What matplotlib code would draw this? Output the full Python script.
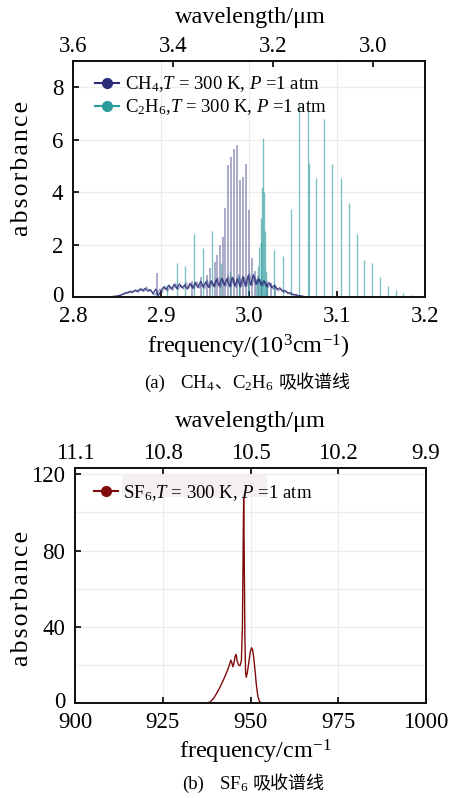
import numpy as np
import matplotlib
matplotlib.use("Agg")
import matplotlib.pyplot as plt
from matplotlib.lines import Line2D
from matplotlib.patches import Rectangle
from matplotlib.transforms import ScaledTranslation

plt.rcParams['font.family'] = ['Liberation Serif', 'DejaVu Serif', 'Noto Sans CJK SC']
plt.rcParams['mathtext.fontset'] = 'custom'
plt.rcParams['mathtext.rm'] = 'Liberation Serif'
plt.rcParams['mathtext.it'] = 'Liberation Serif:italic'
plt.rcParams['mathtext.bf'] = 'Liberation Serif:bold'

# ---------------- data: panel (a) ----------------
# CH4 dense background, two interleaved traces (frequency in 10^3 cm^-1)
ch4_bg_start = 2.840
ch4_bg_step = 0.003
ch4_bg_vals = [0.00, 0.01, 0.02, 0.03, 0.05, 0.08, 0.12, 0.16, 0.20, 0.17,
               0.25, 0.21, 0.30, 0.24, 0.33, 0.22, 0.28, 0.12, 0.30, 0.05,
               0.25, 0.38, 0.28, 0.45, 0.30, 0.48, 0.32, 0.50, 0.35, 0.46,
               0.30, 0.52, 0.34, 0.55, 0.36, 0.60, 0.38, 0.58, 0.36, 0.62,
               0.40, 0.68, 0.42, 0.72, 0.45, 0.70, 0.40, 0.75, 0.42, 0.70,
               0.38, 0.78, 0.40, 0.82, 0.45, 0.85, 0.48, 0.70, 0.45, 0.62,
               0.40, 0.55, 0.35, 0.45, 0.28, 0.35, 0.22, 0.25, 0.15, 0.16,
               0.09, 0.09, 0.05, 0.04, 0.02, 0.01, 0.00]
ch4_bg2_start = 2.8415
ch4_bg2_vals = [0.00, 0.01, 0.03, 0.04, 0.07, 0.10, 0.18, 0.13, 0.24, 0.19,
                0.28, 0.18, 0.34, 0.20, 0.38, 0.25, 0.22, 0.08, 0.15, 0.30,
                0.18, 0.42, 0.22, 0.40, 0.25, 0.52, 0.28, 0.44, 0.30, 0.55,
                0.33, 0.50, 0.30, 0.58, 0.34, 0.52, 0.32, 0.65, 0.35, 0.58,
                0.38, 0.74, 0.36, 0.66, 0.40, 0.80, 0.38, 0.72, 0.35, 0.85,
                0.40, 0.76, 0.42, 0.90, 0.44, 0.78, 0.50, 0.66, 0.42, 0.58,
                0.36, 0.50, 0.30, 0.40, 0.24, 0.30, 0.18, 0.20, 0.12, 0.12,
                0.07, 0.06, 0.04, 0.03, 0.01, 0.01, 0.00]

# CH4 strong lines
ch4_line_freq = [2.8955, 2.9350, 2.9450, 2.9520, 2.9555, 2.9610, 2.9640, 2.9670,
                 2.9701, 2.9731, 2.9765, 2.9795, 2.9830, 2.9867, 2.9901, 2.9928,
                 2.9966, 3.0003, 3.0038, 3.0072, 3.0102, 3.0136, 3.0200, 3.0250,
                 3.0300]
ch4_line_abs = [0.93, 0.60, 0.75, 0.85, 1.10, 1.35, 1.60, 1.98,
                2.30, 3.38, 5.03, 5.32, 5.66, 5.79, 4.46, 4.58,
                5.09, 3.30, 1.50, 1.00, 0.80, 0.70, 0.60, 0.55,
                0.45]

# C2H6 lines
c2h6_line_freq = [2.8955, 2.9068, 2.9178, 2.9273, 2.9378, 2.9481, 2.9583, 2.9682,
                  2.9784, 2.9886, 2.9989, 3.0080, 3.0102, 3.0119, 3.0131, 3.0142,
                  3.0151, 3.0163, 3.0170, 3.0180, 3.0188, 3.0199, 3.0288, 3.0383,
                  3.0481, 3.0572, 3.0674, 3.0679, 3.0767, 3.0856, 3.0947, 3.1042,
                  3.1133, 3.1224, 3.1310, 3.1401, 3.1489, 3.1576, 3.1667, 3.1753,
                  3.1841]
c2h6_line_abs = [0.20, 0.45, 1.28, 1.18, 2.42, 1.85, 2.53, 1.30,
                 1.00, 0.80, 0.60, 0.70, 1.20, 1.90, 2.10, 3.00,
                 4.20, 6.08, 4.00, 2.50, 1.00, 0.50, 1.79, 1.56,
                 3.35, 7.37, 7.10, 5.10, 4.55, 6.77, 5.07, 4.52,
                 3.59, 2.42, 1.43, 1.28, 0.77, 0.42, 0.27, 0.15,
                 0.07]

top_xticks = [2.8, 2.9, 3.0, 3.1, 3.2]
top_yticks = [0, 2, 4, 6, 8]
top_wl_ticks = [3.6, 3.4, 3.2, 3.0]

# ---------------- data: panel (b) ----------------
sf6_freq = [900, 937.5, 938.5, 939.5, 940.5, 941.5, 942.5, 943.3, 943.9, 944.4,
            944.7, 945.0, 945.3, 945.6, 945.9, 946.2, 946.6, 947.0, 947.4, 947.7,
            947.9, 948.05, 948.2, 948.4, 948.6, 948.8, 949.1, 949.5, 949.9, 950.3,
            950.6, 950.9, 951.3, 951.7, 952.1, 952.5, 953.0, 953.5, 1000]
sf6_abs = [0, 0, 0.5, 2.5, 5.5, 9, 13, 16.5, 19.5, 22.5,
           21, 19, 21, 24.5, 25.5, 22, 20, 19.5, 22, 40,
           80, 108, 80, 35, 16, 13.5, 16, 21, 26.5, 29,
           28, 24, 17, 9, 3.5, 1, 0.2, 0, 0]

bot_xticks = [900, 925, 950, 975, 1000]
bot_yticks = [0, 40, 80, 120]
bot_wl_ticks = [11.1, 10.8, 10.5, 10.2, 9.9]

NAVY = '#2b2c78'
TEAL = '#2a9a9c'
DRED = '#7f0a0a'
GRID = '#ececec'
SERIF = ['Liberation Serif', 'DejaVu Serif']
CJK = ['Noto Sans CJK SC', 'DejaVu Sans']

W, H = 451, 798
fig = plt.figure(figsize=(W / 100, H / 100), dpi=100)


def px_axes(l, r, t, b):
    return fig.add_axes([l / W, 1 - b / H, (r - l) / W, (b - t) / H])


TICKFS = 16.5
LABFS = 17.5
LEGFS = 13.5


def style(ax):
    for s in ax.spines.values():
        s.set_linewidth(1.3)
        s.set_color('#111111')
    ax.tick_params(direction='in', length=4, width=1.2, labelsize=TICKFS,
                   right=False, top=False, pad=7)
    ax.tick_params(axis='x', pad=6.5)


def lift_zero_label(ax, px):
    lab = ax.yaxis.get_major_ticks()[0].label1
    lab.set_transform(lab.get_transform() + ScaledTranslation(0, px / 100, fig.dpi_scale_trans))


def chain_text(xc, ybase, pieces):
    """pieces: (string, family, fontsize, gap_after_px). Centered at xc px."""
    renderer = fig.canvas.get_renderer()
    objs, widths = [], []
    for s, fam, fs, gap in pieces:
        t = fig.text(0, 1 - ybase / H, s, family=fam, fontsize=fs, va='baseline', ha='left')
        objs.append(t)
        widths.append(t.get_window_extent(renderer).width)
    total = sum(widths) + sum(p[3] for p in pieces[:-1])
    x = xc - total / 2
    for t, w, p in zip(objs, widths, pieces):
        t.set_x(x / W)
        x += w + p[3]


SP = '\u200a'
ABS_LABEL = SP.join('absorbance')

# ---------------- panel (a) ----------------
ax1 = px_axes(73, 425, 61, 297)
style(ax1)
ax1.set_xlim(2.8, 3.2)
ax1.set_ylim(0, 9)
ax1.set_xticks(top_xticks)
ax1.set_xticklabels([f"{v:.1f}" for v in top_xticks])
ax1.set_yticks(top_yticks)
ax1.grid(True, color=GRID, lw=0.8)
ax1.set_axisbelow(True)
lift_zero_label(ax1, 3)

bg_f = ch4_bg_start + ch4_bg_step * np.arange(len(ch4_bg_vals))
bg2_f = ch4_bg2_start + ch4_bg_step * np.arange(len(ch4_bg2_vals))
ax1.vlines(ch4_line_freq, 0, ch4_line_abs, color=NAVY, alpha=0.5, lw=1.1, zorder=2)
ax1.vlines(c2h6_line_freq, 0, c2h6_line_abs, color=TEAL, alpha=0.6, lw=1.0, zorder=3)
ax1.plot(bg2_f, ch4_bg2_vals, color=NAVY, lw=0.9, alpha=0.45, zorder=4)
ax1.plot(bg_f, ch4_bg_vals, color=NAVY, lw=1.0, alpha=0.85, zorder=4)

h1 = Line2D([], [], color=NAVY, marker='o', ms=7, lw=1.5)
h2 = Line2D([], [], color=TEAL, marker='o', ms=7, lw=1.5)
ax1.legend([h1, h2], ["CH$_4$,$T$ = 300 K, $P$ =1 atm", "C$_2$H$_6$,$T$ = 300 K, $P$ =1 atm"],
           loc='upper left', bbox_to_anchor=(0.03, 0.99), frameon=False, fontsize=LEGFS,
           handlelength=1.3, handletextpad=0.3, labelspacing=0.15, borderaxespad=0.2)

ax1t = ax1.twiny()
ax1t.set_xlim(3.6, 3.6 - 0.2 * 3.52)
ax1t.set_xticks(top_wl_ticks)
ax1t.set_xticklabels([f"{v:.1f}" for v in top_wl_ticks])
ax1t.tick_params(direction='in', length=4, width=1.2, labelsize=TICKFS, pad=3)
for s in ax1t.spines.values():
    s.set_linewidth(1.3)
    s.set_color('#111111')

fig.text(22 / W, 1 - 168 / H, ABS_LABEL, rotation=90, ha='center', va='center', fontsize=18.5)
fig.text(250 / W, 1 - 17 / H, 'wavelength/μm', ha='center', va='center', fontsize=LABFS)
fig.text(248 / W, 1 - 347 / H, 'frequency/(10$^3$cm$^{-1}$)', ha='center', va='center', fontsize=LABFS)
chain_text(247, 388, [("(a)", SERIF, 13.5, 15),
                      ("CH$_4$", SERIF, 13.5, 0),
                      ("、", CJK, 12.5, 0),
                      ("C$_2$H$_6$", SERIF, 13.5, 5),
                      ("吸收谱线", CJK, 13, 0)])

# ---------------- panel (b) ----------------
ax2 = px_axes(75, 426, 468, 703)
style(ax2)
ax2.set_xlim(900, 1000)
ax2.set_ylim(0, 123.3)
ax2.set_xticks(bot_xticks)
ax2.set_yticks(bot_yticks)
ax2.set_yticks([20, 60, 100], minor=True)
ax2.tick_params(axis='y', which='minor', length=0)
ax2.grid(True, which='both', color=GRID, lw=0.8)
ax2.set_axisbelow(True)
lift_zero_label(ax2, 3)
ax2.plot(sf6_freq, sf6_abs, color=DRED, lw=1.0)

# light shading behind the legend text
ax2.add_patch(Rectangle((122 / W, 1 - 497 / H), 145 / W, 22 / H, transform=fig.transFigure,
                        facecolor='#f4eff0', edgecolor='none', zorder=4, clip_on=False))
h3 = Line2D([], [], color=DRED, marker='o', ms=7, lw=1.5)
leg2 = ax2.legend([h3], ["SF$_6$,$T$ = 300 K, $P$ =1 atm"], loc='upper left',
                  bbox_to_anchor=(0.022, 0.985), frameon=False, fontsize=LEGFS,
                  handlelength=1.3, handletextpad=0.25, borderaxespad=0.2)

ax2t = ax2.twiny()
ax2t.set_xlim(11.1, 9.9)
ax2t.set_xticks(bot_wl_ticks)
ax2t.set_xticklabels([f"{v:.1f}" for v in bot_wl_ticks])
ax2t.tick_params(direction='in', length=4, width=1.2, labelsize=TICKFS, pad=3)
for s in ax2t.spines.values():
    s.set_linewidth(1.3)
    s.set_color('#111111')

fig.text(22 / W, 1 - 598 / H, ABS_LABEL, rotation=90, ha='center', va='center', fontsize=18.5)
fig.text(250 / W, 1 - 422 / H, 'wavelength/μm', ha='center', va='center', fontsize=LABFS)
fig.text(255 / W, 1 - 752 / H, 'frequency/cm$^{-1}$', ha='center', va='center', fontsize=LABFS)
chain_text(253, 789, [("(b)", SERIF, 13.5, 15),
                      ("SF$_6$", SERIF, 13.5, 4),
                      ("吸收谱线", CJK, 13, 0)])

fig.savefig('out.png', dpi=100)
